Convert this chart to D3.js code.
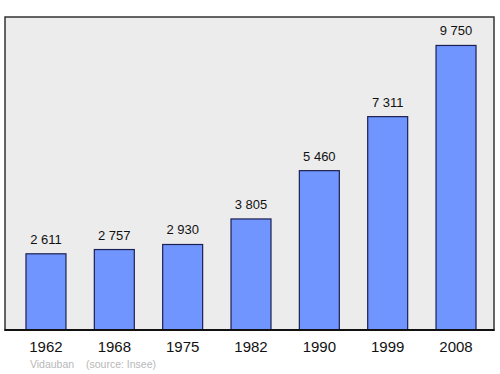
<!DOCTYPE html>
<html>
<head>
<meta charset="utf-8">
<script src="https://cdn.jsdelivr.net/npm/d3@7"></script>
<style>
  body { margin: 0; background: #fff; }
  svg { display: block; font-family: "Liberation Sans", Arial, sans-serif; }
</style>
</head>
<body>
<div id="chart"></div>
<script>
// population data
var years = ["1962", "1968", "1975", "1982", "1990", "1999", "2008"];
var population = [2611, 2757, 2930, 3805, 5460, 7311, 9750];
var valueLabels = ["2 611", "2 757", "2 930", "3 805", "5 460", "7 311", "9 750"];

var w = 500, h = 374;
var frame = { left: 5, top: 17, right: 494, bottom: 330 };

var svg = d3.select("#chart")
  .append("svg")
  .attr("width", w)
  .attr("height", h);

var x = d3.scaleBand()
  .domain(years)
  .range([5, 497])
  .paddingInner(0.415)
  .paddingOuter(0.307);

var y = d3.scaleLinear()
  .domain([0, d3.max(population) * 1.1])
  .range([frame.bottom, frame.top]);

// background frame
svg.append("rect")
  .attr("x", frame.left)
  .attr("y", frame.top)
  .attr("width", frame.right - frame.left)
  .attr("height", frame.bottom - frame.top)
  .attr("fill", "#ececec")
  .attr("stroke", "#333")
  .attr("stroke-width", 1.5);

svg.selectAll("rect.bar")
  .data(population)
  .enter()
  .append("rect")
  .attr("class", "bar")
  .attr("x", function(d, i) { return x(years[i]); })
  .attr("y", function(d) { return y(d); })
  .attr("width", x.bandwidth())
  .attr("height", function(d) { return y(0) - y(d); })
  .attr("fill", "#7095ff")
  .attr("stroke", "#1c2050")
  .attr("stroke-width", 1.2);

// bottom axis line
svg.append("line")
  .attr("x1", frame.left - 0.5)
  .attr("x2", frame.right + 0.5)
  .attr("y1", frame.bottom)
  .attr("y2", frame.bottom)
  .attr("stroke", "#111")
  .attr("stroke-width", 2);

svg.selectAll("text.val")
  .data(population)
  .enter()
  .append("text")
  .attr("class", "val")
  .attr("text-anchor", "middle")
  .attr("x", function(d, i) { return x(years[i]) + x.bandwidth() / 2; })
  .attr("y", function(d) { return y(d) - 10; })
  .attr("font-size", "13px")
  .attr("fill", "#111")
  .text(function(d, i) { return valueLabels[i]; });

svg.selectAll("text.year")
  .data(years)
  .enter()
  .append("text")
  .attr("class", "year")
  .attr("text-anchor", "middle")
  .attr("x", function(d) { return x(d) + x.bandwidth() / 2; })
  .attr("y", 352)
  .attr("font-size", "15px")
  .attr("fill", "#111")
  .text(function(d) { return d; });

svg.append("text")
  .attr("x", 52)
  .attr("y", 368)
  .attr("text-anchor", "middle")
  .attr("font-size", "10.5px")
  .attr("fill", "#b8b8b8")
  .text("Vidauban");

svg.append("text")
  .attr("x", 121)
  .attr("y", 368)
  .attr("text-anchor", "middle")
  .attr("font-size", "10.5px")
  .attr("fill", "#b8b8b8")
  .text("(source: Insee)");
</script>
</body>
</html>
